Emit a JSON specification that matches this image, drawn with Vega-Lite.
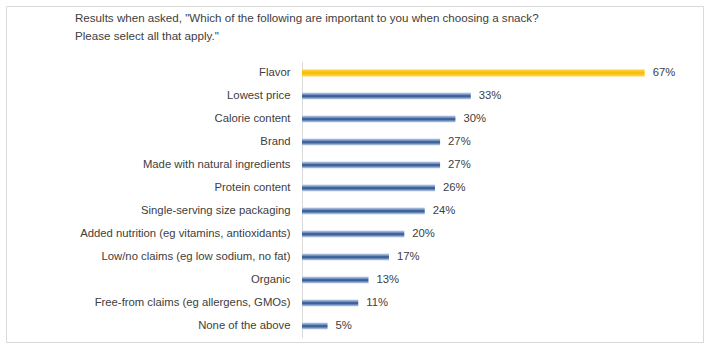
{
  "$schema": "https://vega.github.io/schema/vega-lite/v6.json",
  "autosize": "none",
  "width": 697,
  "height": 336,
  "padding": {"left": 6, "top": 6, "right": 5, "bottom": 8},
  "background": "white",
  "config": {
    "view": {"stroke": "#D9D9D9", "strokeWidth": 1},
    "font": "Liberation Sans"
  },
  "title": {
    "text": ["Results when asked, \"Which of the following are important to you when choosing a snack?", "Please select all that apply.\""],
    "anchor": "start",
    "frame": "group",
    "orient": "top",
    "dx": 69,
    "offset": -48,
    "baseline": "bottom",
    "fontSize": 11.6,
    "fontWeight": "normal",
    "color": "#404040",
    "font": "Liberation Sans",
    "lineHeight": 18
  },
  "data": {
    "values": [
      {"item": "Flavor", "value": 0.67},
      {"item": "Lowest price", "value": 0.33},
      {"item": "Calorie content", "value": 0.30},
      {"item": "Brand", "value": 0.27},
      {"item": "Made with natural ingredients", "value": 0.27},
      {"item": "Protein content", "value": 0.26},
      {"item": "Single-serving size packaging", "value": 0.24},
      {"item": "Added nutrition (eg vitamins, antioxidants)", "value": 0.20},
      {"item": "Low/no claims (eg low sodium, no fat)", "value": 0.17},
      {"item": "Organic", "value": 0.13},
      {"item": "Free-from claims (eg allergens, GMOs)", "value": 0.11},
      {"item": "None of the above", "value": 0.05}
    ]
  },
  "encoding": {
    "y": {
      "field": "item",
      "type": "nominal",
      "sort": ["Flavor", "Lowest price", "Calorie content", "Brand", "Made with natural ingredients", "Protein content", "Single-serving size packaging", "Added nutrition (eg vitamins, antioxidants)", "Low/no claims (eg low sodium, no fat)", "Organic", "Free-from claims (eg allergens, GMOs)", "None of the above"],
      "title": null,
      "scale": {"range": [55.5, 331.5], "paddingInner": 0, "paddingOuter": 0},
      "axis": {
        "offset": -296,
        "ticks": false,
        "labelPadding": 12,
        "labelFontSize": 11.3,
        "labelColor": "#404040",
        "labelFont": "Liberation Sans",
        "domainColor": "#D9D9D9",
        "labelLimit": 300
      }
    },
    "x": {
      "field": "value",
      "type": "quantitative",
      "title": null,
      "axis": null,
      "scale": {"domain": [0, 0.7], "range": [296, 654], "nice": false, "zero": true}
    }
  },
  "layer": [
    {
      "transform": [{"filter": "datum.item !== 'Flavor'"}],
      "mark": {
        "type": "bar",
        "height": 7,
        "color": {
          "gradient": "linear",
          "x1": 0, "y1": 0, "x2": 0, "y2": 1,
          "stops": [
            {"offset": 0, "color": "#C9D7EB"},
            {"offset": 0.3, "color": "#6F8FBF"},
            {"offset": 0.5, "color": "#2A4F86"},
            {"offset": 0.7, "color": "#5F82B6"},
            {"offset": 1, "color": "#D3DEEE"}
          ]
        }
      }
    },
    {
      "transform": [{"filter": "datum.item === 'Flavor'"}],
      "mark": {
        "type": "bar",
        "height": 7,
        "color": {
          "gradient": "linear",
          "x1": 0, "y1": 0, "x2": 0, "y2": 1,
          "stops": [
            {"offset": 0, "color": "#FFD445"},
            {"offset": 0.5, "color": "#F5BC00"},
            {"offset": 1, "color": "#FFD85A"}
          ]
        }
      }
    },
    {
      "mark": {"type": "text", "align": "left", "dx": 8, "fontSize": 11.3, "color": "#404040", "font": "Liberation Sans"},
      "encoding": {"text": {"field": "value", "type": "quantitative", "format": ".0%"}}
    }
  ]
}
